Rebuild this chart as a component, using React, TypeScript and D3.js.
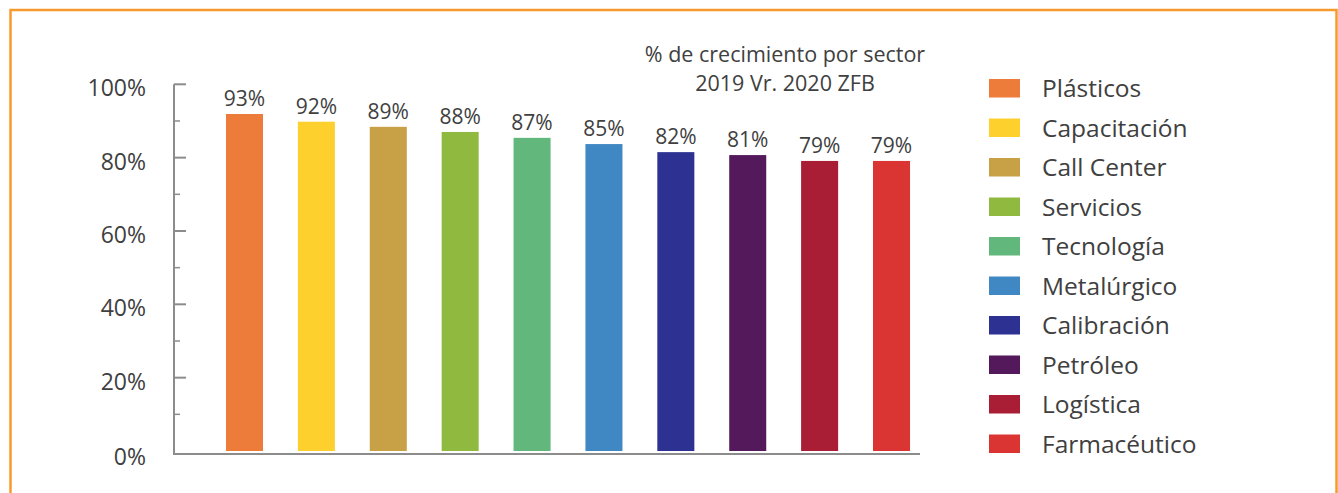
import React, { useEffect, useRef } from 'react';
import * as d3 from 'd3';

const sectors = [
  'Plásticos', 'Capacitación', 'Call Center', 'Servicios', 'Tecnología',
  'Metalúrgico', 'Calibración', 'Petróleo', 'Logística', 'Farmacéutico',
];
// bar heights as drawn (%), and the labels printed above them
const barValues = [91.9, 89.8, 88.4, 87.0, 85.4, 83.7, 81.5, 80.7, 79.1, 79.1];
const barLabels = ['93%', '92%', '89%', '88%', '87%', '85%', '82%', '81%', '79%', '79%'];
const colors = [
  '#ED7B3A', '#FDD02E', '#C8A046', '#8FBA3F', '#62B77C',
  '#4088C3', '#2D3192', '#53195A', '#A91E35', '#DA3433',
];
const yTicks = [0, 20, 40, 60, 80, 100];
const titleLines = ['% de crecimiento por sector', '2019 Vr. 2020 ZFB'];

const FONT = '"Open Sans", "Noto Sans", sans-serif';
const TEXT = '#404040';

const App = () => {
  const ref = useRef<SVGSVGElement>(null);

  useEffect(() => {
    const svg = d3.select(ref.current);
    svg.selectAll('*').remove();

    const width = 1338;
    const height = 493;
    svg.attr('width', width).attr('height', height);

    // orange frame
    svg.append('rect')
      .attr('x', 10.5).attr('y', 10)
      .attr('width', 1326).attr('height', 520)
      .attr('fill', 'none')
      .attr('stroke', '#F79A2E')
      .attr('stroke-width', 2.5);

    const axisX = 174;
    const y = d3.scaleLinear().domain([0, 100]).range([451, 84.3]);
    const x = d3.scaleBand<string>()
      .domain(sectors)
      .range([axisX, 962])
      .paddingInner(0.485)
      .paddingOuter(0.723);

    // bars
    svg.append('g')
      .selectAll('rect')
      .data(sectors)
      .enter()
      .append('rect')
      .attr('x', d => x(d)!)
      .attr('width', x.bandwidth())
      .attr('y', (d, i) => y(barValues[i]))
      .attr('height', (d, i) => y(0) - y(barValues[i]))
      .attr('fill', (d, i) => colors[i]);

    // value labels
    svg.append('g')
      .selectAll('text')
      .data(sectors)
      .enter()
      .append('text')
      .attr('x', d => x(d)! + x.bandwidth() / 2)
      .attr('y', (d, i) => y(barValues[i]) - 8)
      .attr('text-anchor', 'middle')
      .style('font-family', FONT)
      .style('font-size', '21px')
      .style('fill', TEXT)
      .text((d, i) => barLabels[i]);

    // y axis line and ticks
    const axis = svg.append('g').attr('stroke', '#8C8C8C').attr('stroke-width', 2);
    axis.append('line')
      .attr('x1', axisX).attr('x2', axisX)
      .attr('y1', y(100)).attr('y2', 454);
    axis.append('line')
      .attr('x1', axisX - 1).attr('x2', 920)
      .attr('y1', 454).attr('y2', 454);
    axis.selectAll('.major')
      .data(yTicks.filter(t => t > 0))
      .enter()
      .append('line')
      .attr('x1', axisX).attr('x2', axisX + 12)
      .attr('y1', d => y(d)).attr('y2', d => y(d));
    axis.selectAll('.minor')
      .data(d3.range(10, 100, 20))
      .enter()
      .append('line')
      .attr('stroke-width', 1.5)
      .attr('x1', axisX).attr('x2', axisX + 6)
      .attr('y1', d => y(d)).attr('y2', d => y(d));

    svg.append('g')
      .selectAll('text')
      .data(yTicks)
      .enter()
      .append('text')
      .attr('x', 146)
      .attr('y', d => (d === 0 ? 465 : y(d) + 12))
      .attr('text-anchor', 'end')
      .style('font-family', FONT)
      .style('font-size', '23px')
      .style('fill', TEXT)
      .text(d => `${d}%`);

    // title
    svg.append('g')
      .selectAll('text')
      .data(titleLines)
      .enter()
      .append('text')
      .attr('x', 785)
      .attr('y', (d, i) => 62 + i * 29)
      .attr('text-anchor', 'middle')
      .style('font-family', FONT)
      .style('font-size', '21.5px')
      .style('fill', TEXT)
      .text(d => d);

    // legend
    const legend = svg.append('g').attr('transform', 'translate(989, 79)');
    const items = legend.selectAll('g')
      .data(sectors)
      .enter()
      .append('g')
      .attr('transform', (d, i) => `translate(0, ${i * 39.5})`);
    items.append('rect')
      .attr('width', 31)
      .attr('height', 18.5)
      .attr('fill', (d, i) => colors[i]);
    items.append('text')
      .attr('x', 53)
      .attr('y', 18)
      .style('font-family', FONT)
      .style('font-size', '24.5px')
      .style('fill', TEXT)
      .text(d => d);
  }, []);

  return (
    <svg ref={ref} style={{ position: 'absolute', left: 0, top: 0, background: '#fff' }} />
  );
};

export default App;
